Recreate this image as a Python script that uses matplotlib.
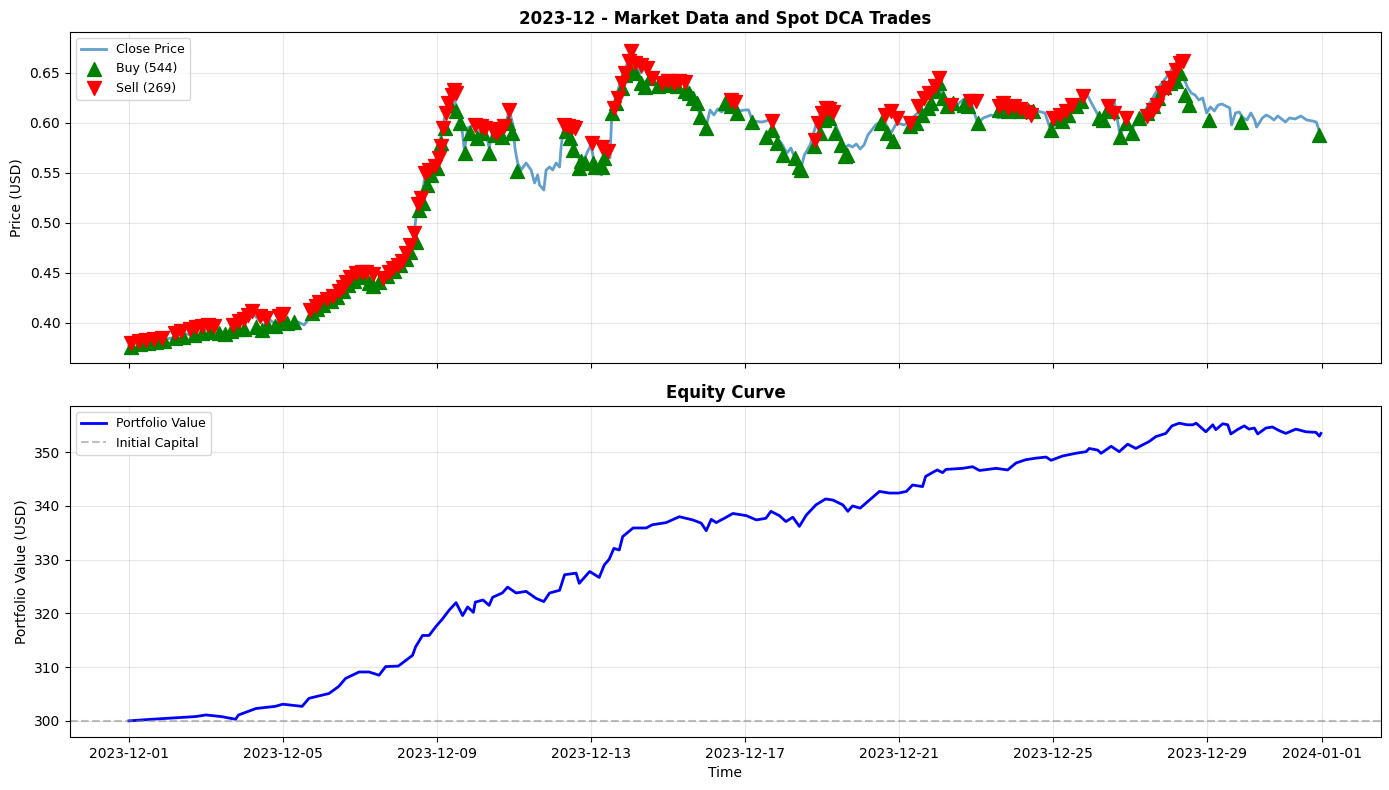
import numpy as np
import pandas as pd
import matplotlib
matplotlib.use("Agg")
from matplotlib import pyplot as plt
import matplotlib.dates as mdates

START = pd.Timestamp("2023-12-01")

# close price, (days since start, price)
price_days = [0.0, 0.2, 0.4, 0.6, 0.8, 1.0, 1.2, 1.4, 1.6, 1.8, 2.0, 2.2, 2.4, 2.6, 2.8, 3.0, 3.2, 3.4, 3.6, 3.8,
              4.0, 4.2, 4.4, 4.55, 4.7, 4.85, 5.0, 5.2, 5.4, 5.6, 5.8, 6.0, 6.2, 6.35, 6.5, 6.7, 6.9, 7.0, 7.15, 7.3,
              7.4, 7.5, 7.6, 7.7, 7.8, 7.95, 8.05, 8.15, 8.25, 8.35, 8.45, 8.55, 8.65, 8.72, 8.8, 8.95, 9.1, 9.25, 9.36, 9.45,
              9.6, 9.75, 9.88, 9.98, 10.03, 10.1, 10.19, 10.32, 10.45, 10.54, 10.62, 10.67, 10.78, 10.84, 10.93, 11.01, 11.1, 11.19, 11.23, 11.29,
              11.45, 11.55, 11.65, 11.75, 11.9, 12.0, 12.1, 12.28, 12.4, 12.5, 12.55, 12.65, 12.8, 12.95, 13.05, 13.15, 13.3, 13.45, 13.6, 13.8,
              14.0, 14.2, 14.4, 14.55, 14.7, 14.85, 15.0, 15.1, 15.2, 15.3, 15.4, 15.5, 15.7, 15.85, 16.0, 16.1, 16.2, 16.45, 16.65, 16.8,
              16.95, 17.1, 17.2, 17.3, 17.45, 17.55, 17.7, 17.85, 18.0, 18.15, 18.3, 18.45, 18.6, 18.7, 18.8, 18.9, 19.0, 19.1, 19.2, 19.4,
              19.6, 19.8, 19.95, 20.15, 20.35, 20.55, 20.7, 20.85, 21.0, 21.15, 21.3, 21.5, 21.7, 21.9, 22.05, 22.2, 22.4, 22.6, 22.8, 23.0,
              23.2, 23.4, 23.6, 23.8, 23.95, 24.15, 24.35, 24.55, 24.75, 24.9, 25.05, 25.25, 25.45, 25.6, 25.75, 25.9, 26.05, 26.2, 26.4, 26.6,
              26.8, 27.0, 27.2, 27.35, 27.5, 27.6, 27.7, 27.8, 27.9, 28.0, 28.1, 28.2, 28.3, 28.4, 28.5, 28.6, 28.65, 28.75, 28.85, 28.95,
              29.05, 29.15, 29.25, 29.3, 29.45, 29.55, 29.65, 29.75, 29.85, 29.95, 30.05, 30.15, 30.3, 30.45, 30.6, 30.75, 30.85, 30.96]
price_vals = [0.377, 0.380, 0.378, 0.383, 0.380, 0.384, 0.386, 0.390, 0.388, 0.395, 0.393, 0.397, 0.391, 0.390, 0.396, 0.401, 0.410, 0.402, 0.405, 0.399,
              0.405, 0.400, 0.401, 0.398, 0.405, 0.415, 0.420, 0.423, 0.430, 0.438, 0.445, 0.450, 0.447, 0.438, 0.440, 0.452, 0.455, 0.458, 0.465, 0.475,
              0.485, 0.520, 0.525, 0.548, 0.552, 0.560, 0.575, 0.595, 0.615, 0.630, 0.625, 0.610, 0.595, 0.572, 0.595, 0.598, 0.590, 0.596, 0.575, 0.592,
              0.597, 0.592, 0.613, 0.598, 0.575, 0.560, 0.553, 0.560, 0.553, 0.540, 0.548, 0.538, 0.533, 0.553, 0.556, 0.553, 0.560, 0.556, 0.576, 0.595,
              0.598, 0.580, 0.570, 0.557, 0.570, 0.578, 0.560, 0.548, 0.575, 0.565, 0.612, 0.625, 0.645, 0.660, 0.672, 0.660, 0.650, 0.657, 0.640, 0.638,
              0.642, 0.640, 0.643, 0.635, 0.625, 0.606, 0.597, 0.613, 0.608, 0.614, 0.611, 0.614, 0.625, 0.612, 0.613, 0.613, 0.602, 0.601, 0.603, 0.587,
              0.580, 0.570, 0.575, 0.565, 0.553, 0.568, 0.578, 0.598, 0.612, 0.613, 0.603, 0.590, 0.575, 0.578, 0.576, 0.579, 0.574, 0.578, 0.588, 0.598,
              0.603, 0.590, 0.600, 0.598, 0.605, 0.612, 0.625, 0.630, 0.645, 0.625, 0.617, 0.618, 0.624, 0.618, 0.600, 0.605, 0.608, 0.605, 0.610, 0.615,
              0.620, 0.613, 0.612, 0.610, 0.593, 0.603, 0.610, 0.618, 0.625, 0.628, 0.617, 0.603, 0.620, 0.622, 0.588, 0.600, 0.592, 0.605, 0.612, 0.625,
              0.638, 0.648, 0.660, 0.650, 0.636, 0.630, 0.628, 0.623, 0.625, 0.610, 0.616, 0.612, 0.618, 0.619, 0.617, 0.615, 0.598, 0.610, 0.611, 0.605,
              0.603, 0.610, 0.603, 0.596, 0.605, 0.608, 0.606, 0.603, 0.607, 0.604, 0.601, 0.605, 0.604, 0.607, 0.603, 0.602, 0.601, 0.588]

buy_days = [0.05, 0.3, 0.5, 0.7, 0.9, 1.2, 1.4, 1.7, 1.9, 2.1, 2.35, 2.5, 2.65, 2.8, 3.0, 3.3, 3.45, 3.6, 3.8, 3.95,
            4.1, 4.3, 4.75, 4.9, 5.05, 5.25, 5.4, 5.55, 5.7, 5.85, 6.05, 6.25, 6.35, 6.5, 6.7, 6.9, 7.05, 7.2, 7.3, 7.45,
            7.55, 7.65, 7.75, 7.85, 8.0, 8.1, 8.2, 8.35, 8.5, 8.6, 8.72, 8.85, 9.05, 9.2, 9.36, 9.5, 9.7, 9.85, 9.95, 10.08,
            11.35, 11.45, 11.55, 11.7, 11.75, 11.85, 12.05, 12.1, 12.3, 12.35, 12.55, 12.65, 12.8, 12.9, 13.0, 13.15, 13.3, 13.4, 13.55, 13.75,
            13.9, 14.05, 14.25, 14.45, 14.55, 14.65, 14.75, 14.85, 15.0, 15.5, 15.65, 15.8, 16.2, 16.55, 16.7, 16.85, 17.0, 17.3, 17.4, 17.45,
            17.8, 17.95, 18.05, 18.2, 18.35, 18.5, 18.6, 18.65, 19.55, 19.7, 19.85, 20.3, 20.45, 20.6, 20.75, 20.85, 20.95, 21.05, 21.15, 21.25,
            21.4, 21.7, 21.8, 22.05, 22.6, 22.75, 22.85, 23.0, 23.15, 23.35, 23.5, 23.95, 24.1, 24.25, 24.4, 24.6, 24.75, 25.2, 25.3, 25.45,
            25.55, 25.75, 25.9, 26.05, 26.25, 26.45, 26.6, 26.75, 26.9, 27.05, 27.2, 27.3, 27.45, 27.55, 28.05, 28.9, 30.92]
buy_prices = [0.376, 0.379, 0.380, 0.381, 0.382, 0.385, 0.386, 0.388, 0.390, 0.391, 0.390, 0.389, 0.392, 0.394, 0.394, 0.396, 0.393, 0.398, 0.397, 0.401,
              0.400, 0.401, 0.410, 0.414, 0.418, 0.422, 0.426, 0.432, 0.438, 0.442, 0.446, 0.440, 0.437, 0.441, 0.447, 0.452, 0.458, 0.464, 0.471, 0.481,
              0.513, 0.520, 0.538, 0.548, 0.555, 0.580, 0.595, 0.618, 0.612, 0.600, 0.570, 0.590, 0.585, 0.590, 0.570, 0.588, 0.586, 0.600, 0.590, 0.552,
              0.592, 0.585, 0.573, 0.555, 0.562, 0.560, 0.560, 0.556, 0.556, 0.565, 0.610, 0.620, 0.635, 0.648, 0.655, 0.650, 0.640, 0.636, 0.645, 0.637,
              0.638, 0.640, 0.637, 0.632, 0.630, 0.625, 0.620, 0.606, 0.595, 0.620, 0.617, 0.610, 0.601, 0.586, 0.593, 0.580, 0.568, 0.565, 0.556, 0.553,
              0.577, 0.590, 0.603, 0.605, 0.590, 0.578, 0.567, 0.568, 0.600, 0.590, 0.582, 0.597, 0.600, 0.608, 0.615, 0.620, 0.632, 0.640, 0.625, 0.617,
              0.620, 0.618, 0.617, 0.600, 0.613, 0.617, 0.612, 0.615, 0.612, 0.613, 0.612, 0.593, 0.605, 0.602, 0.608, 0.617, 0.622, 0.605, 0.603, 0.614,
              0.612, 0.586, 0.600, 0.590, 0.605, 0.610, 0.617, 0.625, 0.636, 0.640, 0.642, 0.650, 0.628, 0.618, 0.603, 0.601, 0.588]

sell_days = [0.05, 0.25, 0.45, 0.65, 0.85, 1.2, 1.35, 1.6, 1.75, 1.9, 2.05, 2.2, 2.7, 2.85, 3.0, 3.1, 3.2, 3.4, 3.55, 3.9,
             4.0, 4.7, 4.85, 4.95, 5.15, 5.3, 5.45, 5.55, 5.65, 5.75, 5.9, 6.05, 6.15, 6.35, 6.6, 6.75, 6.85, 7.0, 7.1, 7.2,
             7.3, 7.4, 7.5, 7.6, 7.7, 7.8, 7.95, 8.05, 8.1, 8.15, 8.25, 8.3, 8.4, 8.45, 8.5, 9.0, 9.15, 9.25, 9.45, 9.55,
             9.65, 9.75, 9.88, 11.3, 11.4, 11.5, 11.6, 12.03, 12.3, 12.45, 12.6, 12.7, 12.8, 12.9, 13.0, 13.05, 13.15, 13.3, 13.45, 13.6,
             13.85, 14.0, 14.15, 14.3, 14.45, 15.65, 15.75, 16.7, 17.83, 17.9, 18.0, 18.1, 18.2, 18.3, 19.65, 19.8, 19.95, 20.3, 20.5, 20.65,
             20.8, 20.95, 21.05, 21.35, 21.85, 22.0, 22.6, 22.7, 22.85, 23.0, 23.15, 23.3, 23.45, 24.0, 24.2, 24.35, 24.5, 24.8, 25.45, 25.6,
             25.9, 26.45, 26.6, 26.7, 26.85, 27.0, 27.1, 27.2, 27.3, 27.4]
sell_prices = [0.380, 0.382, 0.383, 0.384, 0.385, 0.390, 0.392, 0.394, 0.396, 0.397, 0.398, 0.397, 0.398, 0.402, 0.404, 0.408, 0.412, 0.407, 0.405, 0.407,
               0.409, 0.413, 0.417, 0.421, 0.424, 0.427, 0.432, 0.436, 0.441, 0.446, 0.450, 0.451, 0.451, 0.449, 0.445, 0.451, 0.455, 0.458, 0.462, 0.470,
               0.478, 0.490, 0.519, 0.525, 0.550, 0.553, 0.557, 0.565, 0.577, 0.595, 0.610, 0.620, 0.628, 0.633, 0.630, 0.598, 0.597, 0.595, 0.593, 0.590,
               0.594, 0.597, 0.613, 0.598, 0.597, 0.596, 0.595, 0.580, 0.576, 0.572, 0.615, 0.625, 0.640, 0.650, 0.662, 0.672, 0.660, 0.658, 0.655, 0.645,
               0.640, 0.642, 0.640, 0.642, 0.641, 0.623, 0.621, 0.602, 0.583, 0.600, 0.610, 0.615, 0.614, 0.611, 0.608, 0.612, 0.605, 0.600, 0.617, 0.625,
               0.630, 0.637, 0.645, 0.618, 0.622, 0.622, 0.617, 0.620, 0.615, 0.617, 0.614, 0.611, 0.608, 0.605, 0.608, 0.612, 0.618, 0.627, 0.617, 0.610,
               0.605, 0.607, 0.613, 0.618, 0.630, 0.635, 0.645, 0.653, 0.660, 0.662]

n_buys = 544
n_sells = 269

# portfolio value
equity_days = [0.0, 0.6, 1.73, 2.0, 2.4, 2.77, 2.85, 3.3, 3.8, 4.0, 4.5, 4.68, 5.2, 5.45, 5.63, 5.98, 6.24, 6.5, 6.67, 7.0,
               7.37, 7.45, 7.63, 7.8, 7.97, 8.15, 8.32, 8.5, 8.67, 8.8, 8.95, 9.0, 9.2, 9.36, 9.45, 9.7, 9.84, 10.06, 10.32, 10.58,
               10.78, 10.93, 11.19, 11.32, 11.62, 11.7, 11.97, 12.22, 12.35, 12.48, 12.6, 12.74, 12.83, 13.1, 13.44, 13.6, 13.96, 14.3, 14.65, 14.87,
               15.0, 15.13, 15.26, 15.52, 15.69, 16.04, 16.3, 16.55, 16.68, 16.9, 17.07, 17.25, 17.42, 17.6, 17.85, 18.1, 18.29, 18.55, 18.68, 18.8,
               19.0, 19.24, 19.5, 19.76, 20.0, 20.2, 20.36, 20.62, 20.7, 21.0, 21.14, 21.23, 21.66, 21.92, 22.1, 22.53, 22.83, 23.05, 23.3, 23.57,
               23.83, 23.96, 24.26, 24.6, 24.87, 24.95, 25.17, 25.26, 25.52, 25.73, 25.95, 26.16, 26.51, 26.68, 26.94, 27.1, 27.29, 27.5, 27.64, 27.73,
               27.98, 28.16, 28.24, 28.42, 28.55, 28.63, 28.8, 28.98, 29.1, 29.24, 29.33, 29.54, 29.71, 29.89, 30.06, 30.32, 30.58, 30.84, 30.93, 30.97]
equity_vals = [300.0, 300.3, 300.8, 301.1, 300.8, 300.3, 301.1, 302.3, 302.7, 303.1, 302.7, 304.2, 305.1, 306.4, 307.9, 309.1, 309.1, 308.5, 310.1, 310.2,
               312.2, 313.8, 315.9, 315.9, 317.5, 319.0, 320.6, 322.0, 319.6, 321.2, 320.2, 322.1, 322.5, 321.5, 323.0, 323.8, 324.9, 323.8, 324.1, 322.8,
               322.2, 323.8, 324.3, 327.2, 327.5, 325.6, 327.8, 326.7, 329.0, 330.1, 332.1, 331.8, 334.3, 335.9, 335.9, 336.5, 336.9, 338.0, 337.4, 336.8,
               335.4, 337.5, 336.9, 337.9, 338.6, 338.2, 337.4, 337.7, 339.0, 338.2, 337.1, 337.9, 336.2, 338.3, 340.2, 341.3, 341.1, 340.2, 339.0, 340.0,
               339.6, 341.1, 342.7, 342.4, 342.4, 342.7, 343.9, 343.6, 345.5, 346.7, 346.2, 346.8, 347.0, 347.3, 346.6, 347.0, 346.7, 348.0, 348.6, 348.9,
               349.1, 348.5, 349.3, 349.8, 350.1, 350.7, 350.4, 349.8, 351.1, 350.1, 351.5, 350.7, 352.0, 352.9, 353.5, 354.9, 355.4, 355.1, 355.1, 355.4,
               353.8, 355.1, 354.2, 355.3, 355.1, 353.4, 354.2, 354.9, 354.3, 354.5, 353.4, 354.5, 354.7, 354.0, 353.5, 354.3, 353.8, 353.7, 353.0, 353.5]

initial_capital = 300


def to_time(days):
    return START + pd.to_timedelta(np.array(days), unit="D")


def main():
    fig, (ax1, ax2) = plt.subplots(2, 1, figsize=(13.89, 7.9), sharex=True)
    fig.subplots_adjust(left=0.0504, right=0.9942, top=0.9595, bottom=0.0671, hspace=0.13)

    ax1.plot(to_time(price_days), price_vals, color="tab:blue", alpha=0.7, linewidth=2, label="Close Price")
    ax1.scatter(to_time(buy_days), buy_prices, marker="^", color="green", s=100, zorder=5, label=f"Buy ({n_buys})")
    ax1.scatter(to_time(sell_days), sell_prices, marker="v", color="red", s=100, zorder=5, label=f"Sell ({n_sells})")
    ax1.set_title("2023-12 - Market Data and Spot DCA Trades", fontweight="bold", fontsize=12)
    ax1.set_ylabel("Price (USD)")
    ax1.set_ylim(0.36, 0.691)
    ax1.legend(loc="upper left", fontsize=9)
    ax1.grid(True, alpha=0.3)

    ax2.plot(to_time(equity_days), equity_vals, color="blue", linewidth=2, label="Portfolio Value")
    ax2.axhline(initial_capital, color="gray", linestyle="--", alpha=0.5, label="Initial Capital")
    ax2.set_title("Equity Curve", fontweight="bold", fontsize=12)
    ax2.set_ylabel("Portfolio Value (USD)")
    ax2.set_xlabel("Time")
    ax2.set_ylim(297.0, 358.6)
    ax2.legend(loc="upper left", fontsize=9)
    ax2.grid(True, alpha=0.3)

    ax2.xaxis.set_major_locator(mdates.DayLocator(bymonthday=[1, 5, 9, 13, 17, 21, 25, 29]))
    ax2.xaxis.set_major_formatter(mdates.DateFormatter("%Y-%m-%d"))
    ax2.set_xlim(START - pd.Timedelta(days=1.53), START + pd.Timedelta(days=32.53))

    plt.savefig("out.png", dpi=100)


if __name__ == "__main__":
    main()
